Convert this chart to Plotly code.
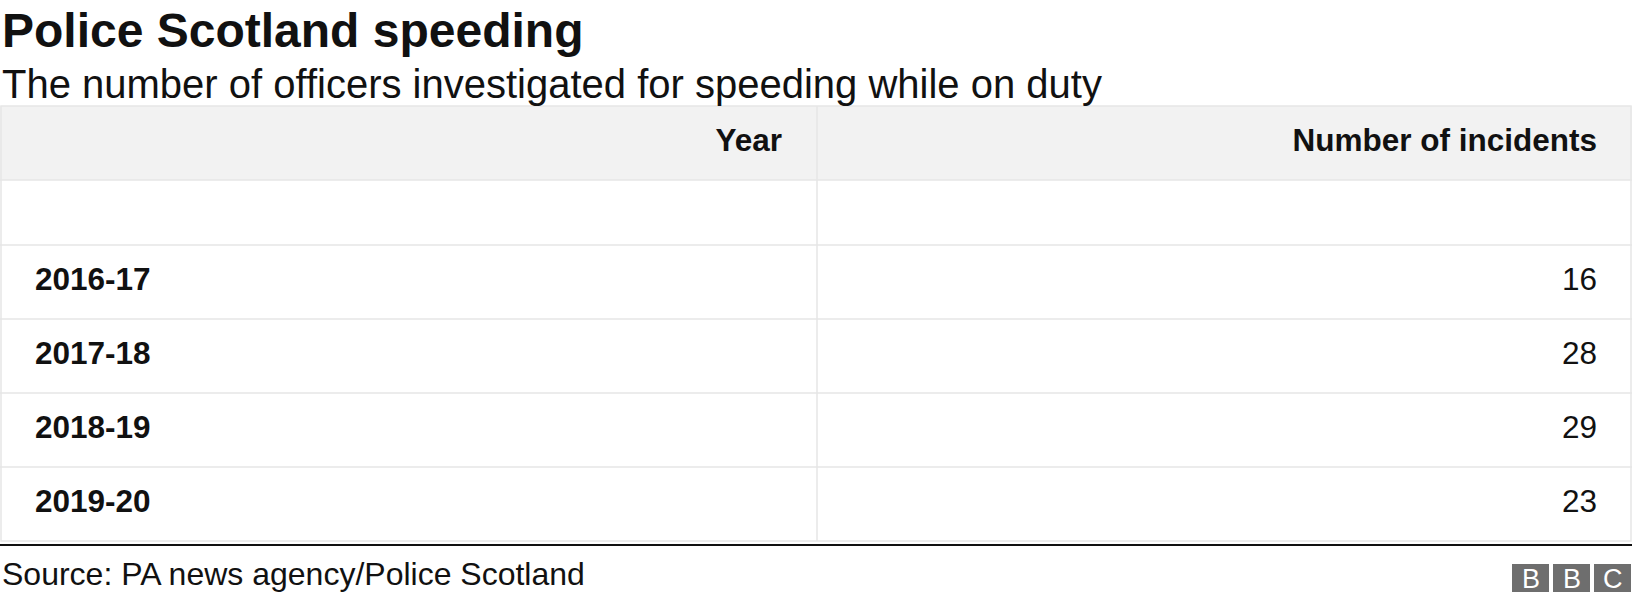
import plotly.graph_objects as go

years = ["2016-17", "2017-18", "2018-19", "2019-20"]
incidents = [16, 28, 29, 23]
headers = ["Year", "Number of incidents"]

W, H = 1632, 602
FONT = "Liberation Sans, Arial, sans-serif"
DARK = "#111111"

header_top, header_bot = 106, 180
row_h = 74
first_row_top = 245
col_split = 817
pad = 35

fig = go.Figure()
row_centers = [first_row_top + row_h * (i + 0.5) for i in range(len(years))]

fig.add_trace(go.Scatter(
    x=[pad] * len(years), y=row_centers, mode="text",
    text=[f"<b>{y}</b>" for y in years], textposition="middle right",
    textfont=dict(family=FONT, size=31.5, color=DARK), hoverinfo="skip"))
fig.add_trace(go.Scatter(
    x=[W - pad] * len(incidents), y=row_centers, mode="text",
    text=[str(v) for v in incidents], textposition="middle left",
    textfont=dict(family=FONT, size=31.5, color=DARK), hoverinfo="skip"))
fig.add_trace(go.Scatter(
    x=[col_split - pad, W - pad], y=[(header_top + header_bot) / 2] * 2, mode="text",
    text=[f"<b>{h}</b>" for h in headers], textposition="middle left",
    textfont=dict(family=FONT, size=31.5, color=DARK), hoverinfo="skip"))

LINE = "#e6e6e6"
shapes = [
    dict(type="rect", x0=0, x1=W, y0=header_top, y1=header_bot, fillcolor="#f2f2f2",
         line=dict(width=0), layer="below"),
    dict(type="rect", x0=1, x1=W - 1, y0=header_top, y1=first_row_top + row_h * len(years),
         line=dict(color=LINE, width=1.5), layer="below"),
    dict(type="line", x0=col_split, x1=col_split, y0=header_top,
         y1=first_row_top + row_h * len(years), line=dict(color=LINE, width=1.5), layer="below"),
    dict(type="line", x0=0, x1=W, y0=header_bot, y1=header_bot, line=dict(color=LINE, width=1.5), layer="below"),
]
for i in range(len(years)):
    y = first_row_top + row_h * i
    shapes.append(dict(type="line", x0=0, x1=W, y0=y, y1=y, line=dict(color=LINE, width=1.5), layer="below"))
shapes.append(dict(type="line", x0=0, x1=W, y0=545, y1=545, line=dict(color=DARK, width=2)))

ann = [
    dict(text="<b>Police Scotland speeding</b>", x=0, y=30, font=dict(size=48)),
    dict(text="The number of officers investigated for speeding while on duty", x=0, y=84, font=dict(size=40)),
    dict(text="Source: PA news agency/Police Scotland", x=0, y=574, font=dict(size=32)),
]
for a in ann:
    a.update(xref="x", yref="y", xanchor="left", yanchor="middle", showarrow=False)
    a["font"].update(family=FONT, color=DARK)

for i, letter in enumerate("BBC"):
    x0 = 1512 + i * 41
    shapes.append(dict(type="rect", x0=x0, x1=x0 + 37, y0=564, y1=592,
                       fillcolor="#6e6e6e", line=dict(width=0)))
    ann.append(dict(text=letter, x=x0 + 18.5, y=578.5, xref="x", yref="y", showarrow=False,
                    xanchor="center", yanchor="middle",
                    font=dict(family=FONT, size=27, color="white")))

for s in shapes:
    s.update(xref="x", yref="y")

fig.update_layout(width=W, height=H, margin=dict(l=0, r=0, t=0, b=0),
                  paper_bgcolor="white", plot_bgcolor="white", showlegend=False,
                  shapes=shapes, annotations=ann,
                  xaxis=dict(range=[0, W], visible=False, fixedrange=True),
                  yaxis=dict(range=[H, 0], visible=False, fixedrange=True))
fig.write_html("out.html", config={"displayModeBar": False},
               post_script="document.body.style.margin='0';")
